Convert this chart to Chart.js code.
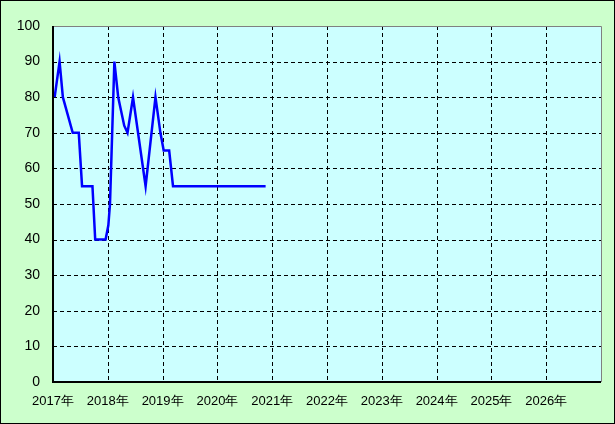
<!DOCTYPE html>
<html>
<head>
<meta charset="utf-8">
<script src="https://cdn.jsdelivr.net/npm/chart.js@4"></script>
<style>
  html, body { margin: 0; padding: 0; background: #ccffcc; }
  #wrap { width: 615px; height: 424px; }
</style>
</head>
<body>
<div id="wrap"><canvas id="myChart" width="615" height="424"></canvas></div>
<script>
// time as fractional year
const years = [2017.03, 2017.12, 2017.18, 2017.36, 2017.47, 2017.53, 2017.72, 2017.77, 2017.96,
  2018.01, 2018.04, 2018.12, 2018.19, 2018.30, 2018.36, 2018.46, 2018.69, 2018.87, 2018.96,
  2019.02, 2019.12, 2019.19, 2020.88];
const values = [80, 90, 80, 70, 70, 55, 55, 40, 40,
  44, 50, 90, 80, 72, 70, 80, 55, 80, 70,
  65, 65, 55, 55];
const yTicks = [0, 10, 20, 30, 40, 50, 60, 70, 80, 90, 100];

const points = years.map((y, i) => ({ x: y, y: values[i] }));

// plot background, dashed grid, outer frame and gray top/right border
const framePlugin = {
  id: 'frame',
  beforeDraw(chart) {
    const { ctx, chartArea: a } = chart;
    ctx.save();
    ctx.fillStyle = '#ccffcc';
    ctx.fillRect(0, 0, chart.width, chart.height);
    ctx.fillStyle = '#ccffff';
    ctx.fillRect(a.left, a.top, a.right - a.left, a.bottom - a.top);
    ctx.restore();
  },
  beforeDatasetsDraw(chart) {
    const { ctx, chartArea: a, scales } = chart;
    ctx.save();
    ctx.strokeStyle = '#000';
    ctx.lineWidth = 1;
    ctx.setLineDash([4, 3]);
    scales.x.ticks.forEach(t => {
      if (t.value <= 2017 || t.value >= 2027) return;
      const px = Math.round(scales.x.getPixelForValue(t.value)) + 0.5;
      ctx.beginPath(); ctx.moveTo(px, a.top); ctx.lineTo(px, a.bottom); ctx.stroke();
    });
    scales.y.ticks.forEach(t => {
      if (t.value <= 0 || t.value >= 100) return;
      const py = Math.round(scales.y.getPixelForValue(t.value)) + 0.5;
      ctx.beginPath(); ctx.moveTo(a.left, py); ctx.lineTo(a.right, py); ctx.stroke();
    });
    ctx.restore();
  },
  afterDraw(chart) {
    const { ctx, chartArea: a } = chart;
    ctx.save();
    ctx.lineWidth = 1;
    ctx.strokeStyle = '#808080';
    ctx.beginPath();
    ctx.moveTo(a.left, a.top + 0.5);
    ctx.lineTo(a.right + 0.5, a.top + 0.5);
    ctx.lineTo(a.right + 0.5, a.bottom);
    ctx.stroke();
    ctx.strokeStyle = '#000';
    ctx.lineWidth = 2;
    ctx.beginPath();
    ctx.moveTo(a.left, a.top);
    ctx.lineTo(a.left, a.bottom);
    ctx.lineTo(a.right, a.bottom);
    ctx.stroke();
    ctx.lineWidth = 1;
    ctx.strokeRect(0.5, 0.5, chart.width - 1, chart.height - 1);
    ctx.restore();
  }
};

const ctx = document.getElementById('myChart').getContext('2d');
new Chart(ctx, {
  type: 'line',
  data: {
    datasets: [{
      data: points,
      borderColor: '#0000ff',
      borderWidth: 2.5,
      pointRadius: 0,
      tension: 0,
      fill: false
    }]
  },
  options: {
    responsive: false,
    animation: false,
    layout: { padding: { top: 26, right: 14, left: 0, bottom: 0 } },
    plugins: { legend: { display: false }, tooltip: { enabled: false } },
    scales: {
      x: {
        type: 'linear',
        min: 2017,
        max: 2027,
        afterFit(scale) { scale.height = 42; },
        grid: { display: false },
        border: { display: false },
        ticks: {
          stepSize: 1,
          autoSkip: false,
          maxRotation: 0,
          padding: 4,
          color: '#000',
          font: { family: 'Liberation Sans, Arial', size: 13 },
          callback: (v) => v < 2027 ? v + '年' : ''
        }
      },
      y: {
        min: 0,
        max: 100,
        afterFit(scale) { scale.width = 53; },
        afterBuildTicks(scale) { scale.ticks = yTicks.map(v => ({ value: v })); },
        grid: { display: false },
        border: { display: false },
        ticks: {
          padding: 5,
          color: '#000',
          font: { family: 'Liberation Sans, Arial', size: 14 }
        }
      }
    }
  },
  plugins: [framePlugin]
});
</script>
</body>
</html>
